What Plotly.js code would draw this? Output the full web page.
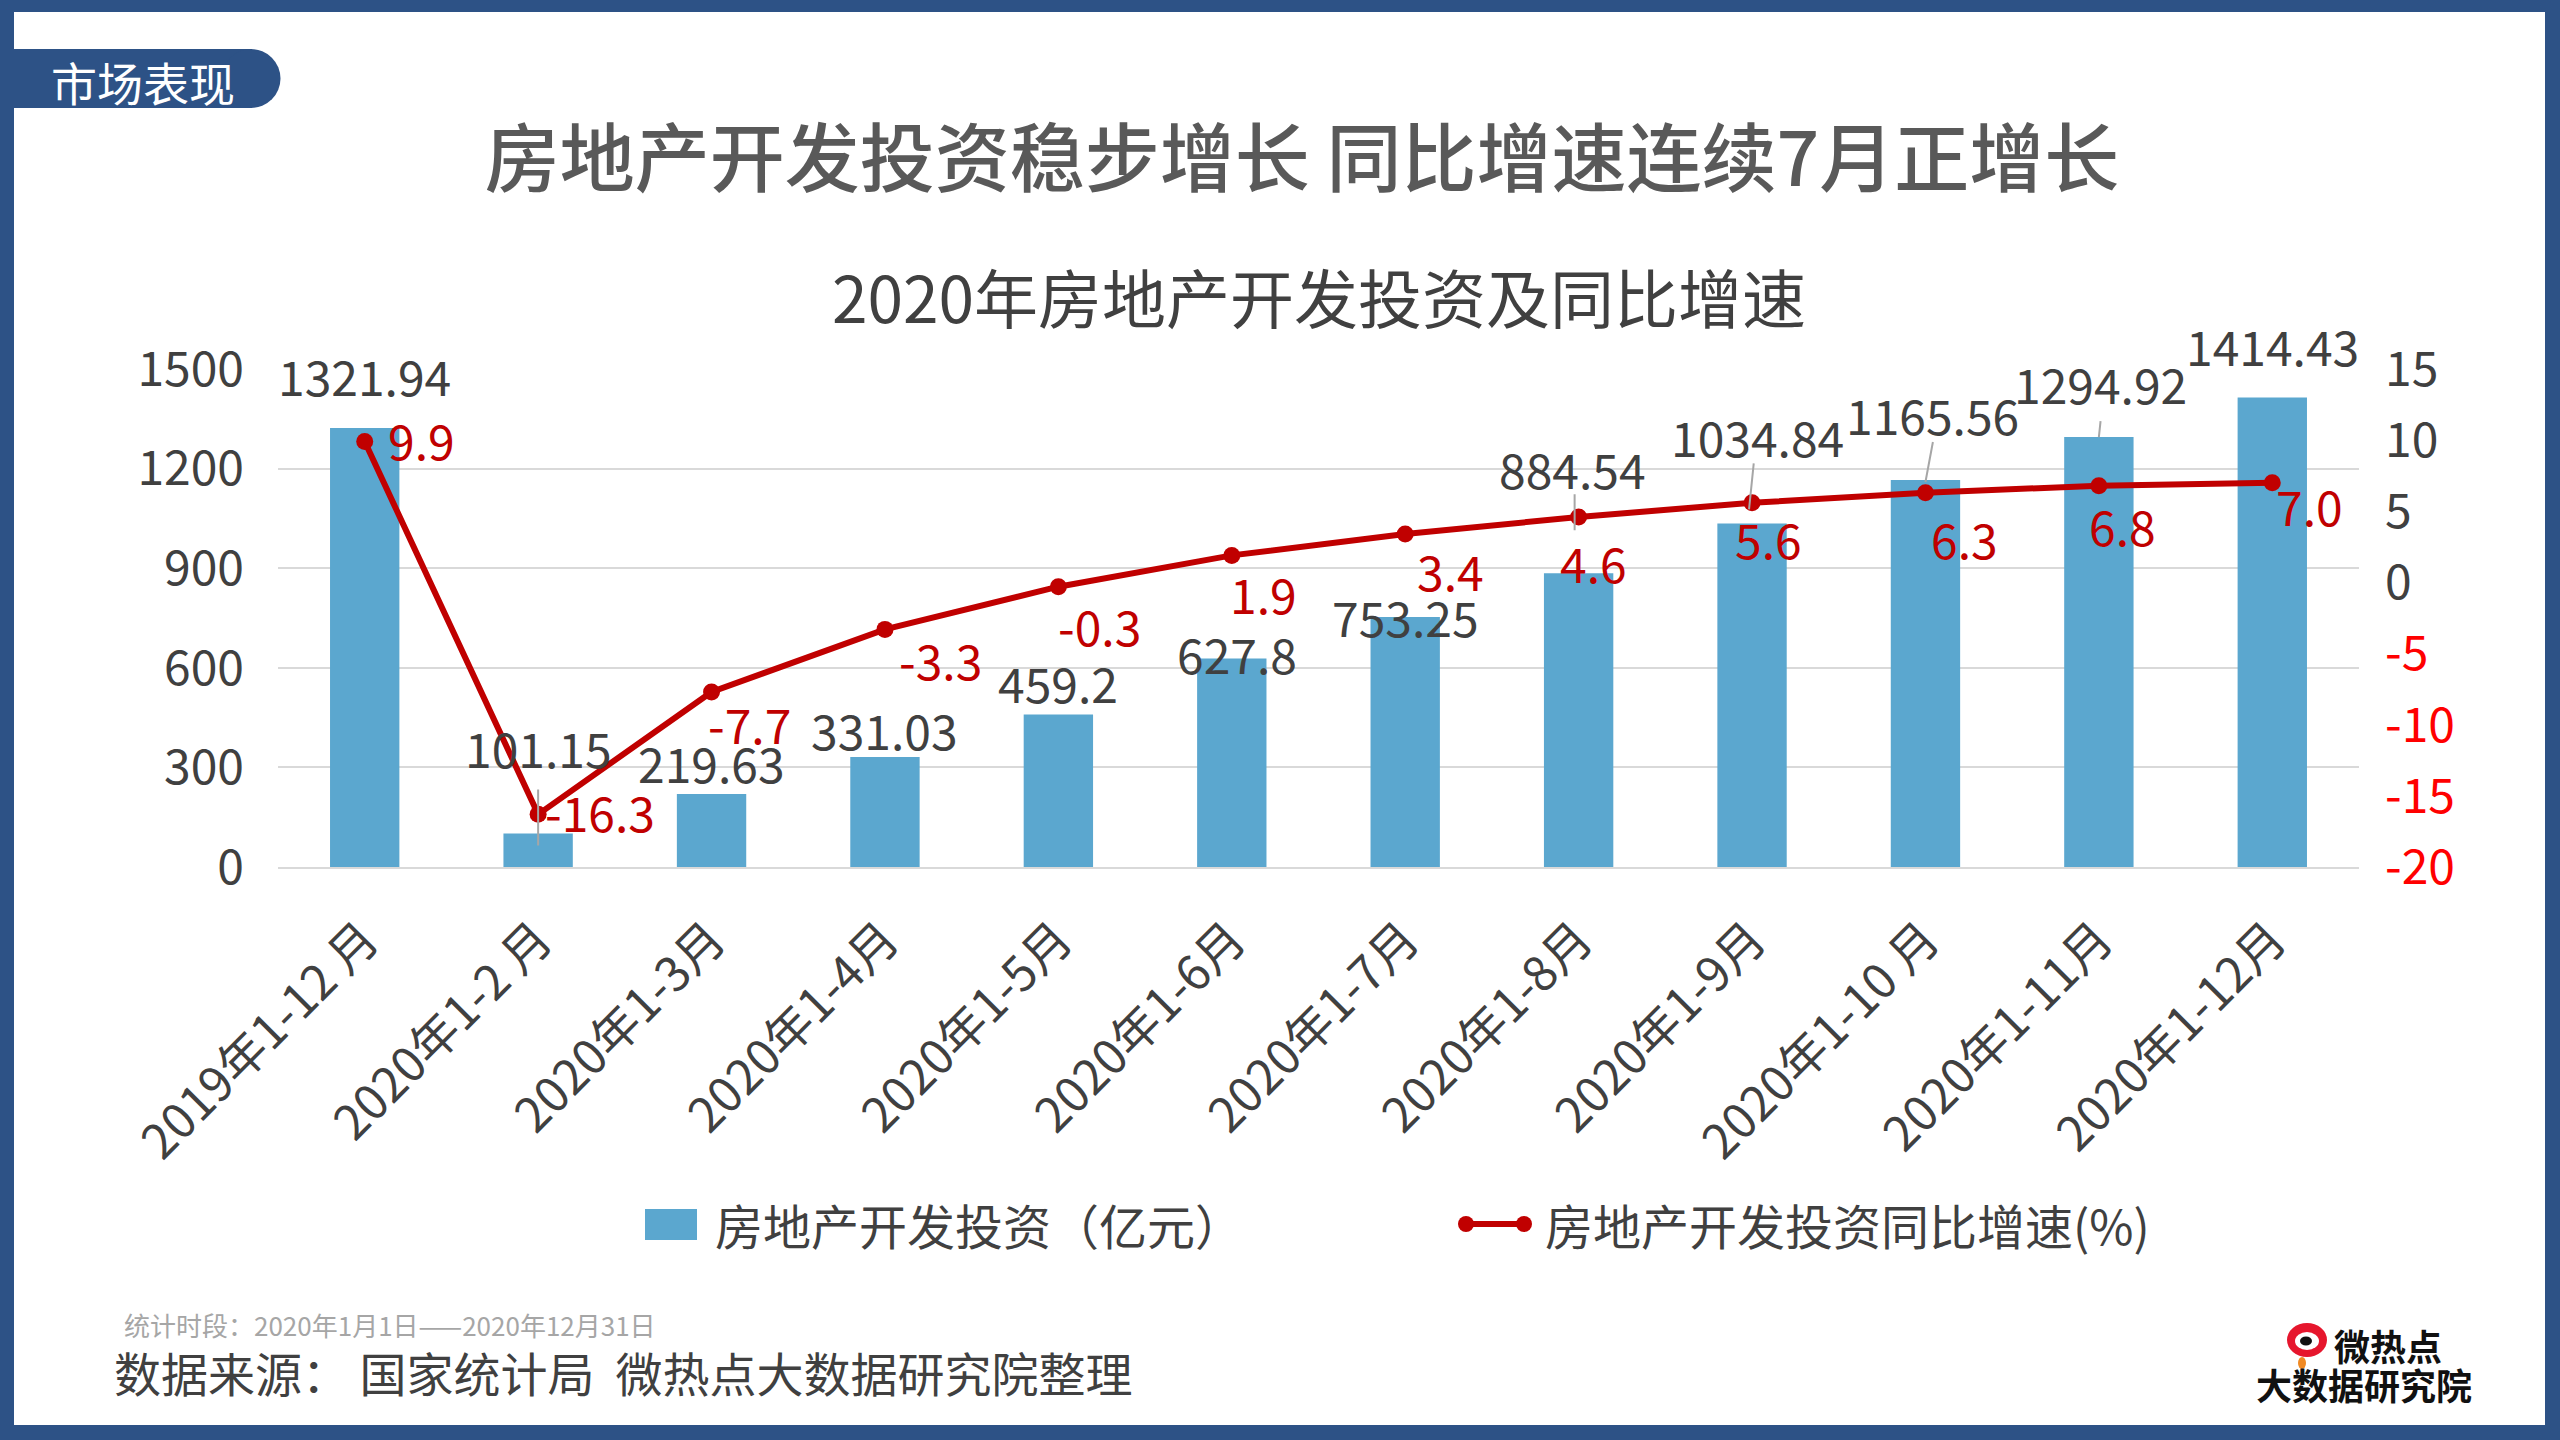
<!DOCTYPE html>
<html>
<head>
<meta charset="utf-8">
<script src="https://cdn.plot.ly/plotly-3.0.1.min.js"></script>
<style>
html,body{margin:0;padding:0;background:#ffffff;}
#chart{width:2560px;height:1440px;}
</style>
</head>
<body>
<div id="chart"></div>
<script>
// ---------------- data ----------------
const categories = ['2019年1-12 月','2020年1-2 月','2020年1-3月','2020年1-4月','2020年1-5月','2020年1-6月','2020年1-7月','2020年1-8月','2020年1-9月','2020年1-10 月','2020年1-11月','2020年1-12月'];
const investment = [1321.94, 101.15, 219.63, 331.03, 459.2, 627.8, 753.25, 884.54, 1034.84, 1165.56, 1294.92, 1414.43];
const growth = [9.9, -16.3, -7.7, -3.3, -0.3, 1.9, 3.4, 4.6, 5.6, 6.3, 6.8, 7.0];
const leftTicks = [0, 300, 600, 900, 1200, 1500];
const rightTicks = [-20, -15, -10, -5, 0, 5, 10, 15];
const barName = '房地产开发投资（亿元）';
const lineName = '房地产开发投资同比增速(%)';
const mainTitle = '房地产开发投资稳步增长 同比增速连续7月正增长';
const subTitle = '2020年房地产开发投资及同比增速';
const tagText = '市场表现';
const periodText = '统计时段：2020年1月1日——2020年12月31日';
const sourceText = '数据来源：&nbsp;国家统计局&nbsp;&nbsp;微热点大数据研究院整理';

// ---------------- label offsets (px) ----------------
const barLabelDx = [0, 0, 0, 0, 0, 5, 0, -6, 5, 7, 2, 0];
const barLabelDy = [53, 86, 32, 28, 33, 6, 1, 105, 87, 66, 54, 52];
const lineLabelDx = [57, 62, 38, 56, 41, 32, 45, 15, 16, 39, 24, 37];
const lineLabelDy = [3, 3, -31, -30, -38, -38, -36, -45, -35, -45, -39, -22];
// leader lines of bar labels: index, head [dx, up], tail [dx, up] relative to bar top
const leaderIdx = [1, 7, 8, 9, 10];
const leaderHead = [[0, -12], [-4, 43], [-3, 14], [0, -2], [0, 0]];
const leaderTail = [[0, 47], [-4, 82], [2, 63], [8, 41], [2, 19]];

// ---------------- geometry ----------------
const W = 2560, H = 1440;
const ml = 278, mr = 201, mt = 369, mb = 573;
const pw = W - ml - mr, ph = H - mt - mb;
const PX = p => (p - ml) / pw;
const PY = p => 1 - (p - mt) / ph;

const FONT = '"Noto Sans CJK SC", "Noto Sans", sans-serif';
const DARK = '#404040';
const BAR = '#5BA7CF';
const RED = '#C00000';
const FRAME = '#2D5286';

const traces = [
  {
    type: 'bar', name: barName, x: categories, y: investment,
    marker: {color: BAR}, hoverinfo: 'x+y', showlegend: false
  },
  {
    type: 'scatter', mode: 'lines+markers', name: lineName, x: categories, y: growth,
    yaxis: 'y2', line: {color: RED, width: 6}, marker: {color: RED, size: 17},
    showlegend: false
  }
];

const annotations = [];
leaderIdx.forEach((i, k) => {
  const h = leaderHead[k], t = leaderTail[k];
  annotations.push({
    x: categories[i], y: investment[i], xref: 'x', yref: 'y', text: ' ', showarrow: true,
    arrowhead: 0, arrowwidth: 2, arrowcolor: '#A6A6A6', standoff: 0, startstandoff: 0,
    xshift: h[0], yshift: h[1], ax: t[0] - h[0], ay: -(t[1] - h[1]),
    font: {size: 2}
  });
});
investment.forEach((v, i) => {
  annotations.push({
    x: categories[i], y: v, xref: 'x', yref: 'y', text: String(v), showarrow: false,
    xanchor: 'center', yanchor: 'middle', xshift: barLabelDx[i], yshift: barLabelDy[i],
    font: {family: FONT, size: 48, color: DARK}
  });
});
growth.forEach((v, i) => {
  annotations.push({
    x: categories[i], y: v, xref: 'x', yref: 'y2', text: v.toFixed(1), showarrow: false,
    xanchor: 'center', yanchor: 'middle', xshift: lineLabelDx[i], yshift: lineLabelDy[i],
    font: {family: FONT, size: 48, color: RED}
  });
});
function textAt(px, py, txt, size, color, anchor, weight) {
  annotations.push({
    xref: 'paper', yref: 'paper', x: PX(px), y: PY(py), text: txt, showarrow: false,
    xanchor: anchor || 'center', yanchor: 'middle',
    font: {family: FONT, size: size, color: color, weight: weight || 400}
  });
}
textAt(1319, 295, subTitle, 64, DARK);
textAt(143, 81, tagText, 46, '#ffffff');
textAt(713, 1224, barName, 48, DARK, 'left');
textAt(1543, 1224, lineName, 48, DARK, 'left');
textAt(122, 1324, periodText, 26, '#A6A6A6', 'left');
textAt(112, 1371, sourceText, 47, DARK, 'left');
textAt(2388, 1345, '微热点', 36, '#111111', 'center', 700);
textAt(2364, 1384, '大数据研究院', 36, '#111111', 'center', 700);

function rectPx(x0, y0, x1, y1, color) {
  return {type: 'rect', xref: 'paper', yref: 'paper', x0: PX(x0), x1: PX(x1), y0: PY(y1), y1: PY(y0),
          fillcolor: color, line: {width: 0}, layer: 'above'};
}
function circlePx(cx, cy, rx, ry, color) {
  return {type: 'circle', xref: 'paper', yref: 'paper', x0: PX(cx - rx), x1: PX(cx + rx), y0: PY(cy + ry), y1: PY(cy - ry),
          fillcolor: color, line: {width: 0}, layer: 'above'};
}
const shapes = [
  // frame
  rectPx(0, 0, W, 12, FRAME),
  rectPx(0, 0, 14, H, FRAME),
  rectPx(W - 15, 0, W, H, FRAME),
  rectPx(0, H - 15, W, H, FRAME),
  // tag pill
  rectPx(14, 49, 252, 108, FRAME),
  circlePx(251, 78.5, 29.5, 29.5, FRAME),
  // legend symbols
  rectPx(645, 1209, 697, 1240, BAR),
  {type: 'line', xref: 'paper', yref: 'paper', x0: PX(1463), x1: PX(1527), y0: PY(1224), y1: PY(1224),
   line: {color: RED, width: 6}, layer: 'above'},
  circlePx(1466, 1224, 8, 8, RED),
  circlePx(1524, 1224, 8, 8, RED),
  // logo icon
  circlePx(2307, 1340, 20, 17, '#E6162D'),
  circlePx(2307, 1341, 12, 9, '#ffffff'),
  circlePx(2306, 1341, 6, 4.5, '#111111'),
  circlePx(2302, 1363, 4, 6, '#F08A24')
];

const layout = {
  width: W, height: H,
  paper_bgcolor: '#ffffff', plot_bgcolor: '#ffffff',
  margin: {l: ml, r: mr, t: mt, b: mb, pad: 0},
  font: {family: FONT, color: DARK},
  showlegend: false,
  bargap: 0.6,
  title: {
    text: mainTitle, x: 1302 / W, xref: 'container', xanchor: 'center',
    y: 1 - 160 / H, yref: 'container', yanchor: 'middle',
    font: {family: FONT, size: 75, color: '#595959', weight: 500}
  },
  xaxis: {
    type: 'category', range: [-0.5, categories.length - 0.5], autorange: false,
    tickangle: -45, tickfont: {family: FONT, size: 48, color: DARK},
    showline: true, linecolor: '#D9D9D9', linewidth: 2, showgrid: false, ticks: '',
    ticklabelstandoff: 23, fixedrange: true
  },
  yaxis: {
    range: [0, 1500], tickvals: leftTicks, ticktext: leftTicks.map(String),
    showgrid: true, gridcolor: '#D9D9D9', gridwidth: 2, zeroline: false, showline: false,
    tickfont: {family: FONT, size: 48, color: DARK}, ticks: '', ticklabelstandoff: 33, fixedrange: true
  },
  yaxis2: {
    overlaying: 'y', side: 'right', range: [-20, 15], tickvals: rightTicks,
    ticktext: rightTicks.map(v => v < 0 ? '<span style="color:#FF0000">' + v + '</span>' : String(v)),
    showgrid: false, zeroline: false, showline: false, ticks: '',
    tickfont: {family: FONT, size: 48, color: DARK}, ticklabelstandoff: 25, fixedrange: true
  },
  annotations: annotations,
  shapes: shapes
};

Plotly.newPlot('chart', traces, layout, {displayModeBar: false, staticPlot: true});
</script>
</body>
</html>
